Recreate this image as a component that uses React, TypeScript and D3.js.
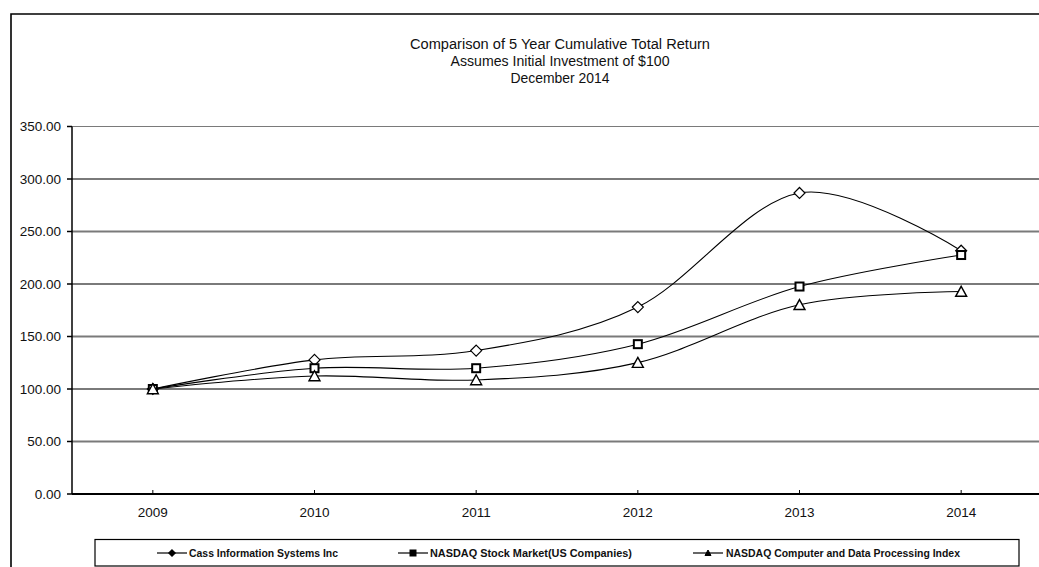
import React from "react";
import * as d3 from "d3";

const years = ["2009", "2010", "2011", "2012", "2013", "2014"];
const cass = [100, 127.7, 136.6, 178.0, 286.7, 231.7];
const nasdaq = [100, 119.8, 119.8, 142.7, 197.6, 227.6];
const computer = [100, 112.4, 108.6, 125.1, 180.2, 192.8];
const yTicks = [0, 50, 100, 150, 200, 250, 300, 350];
const titleLines = [
  "Comparison  of 5 Year Cumulative  Total Return",
  "Assumes Initial Investment  of $100",
  "December 2014",
];
const seriesNames = [
  "Cass Information Systems Inc",
  "NASDAQ Stock Market(US Companies)",
  "NASDAQ Computer and Data Processing Index",
];

const W = 1039;
const H = 567;
const FONT = "'Liberation Sans', Arial, sans-serif";

export default function App() {
  const x = d3.scaleBand<string>().domain(years).range([72, 1042]).paddingInner(0).paddingOuter(0);
  const cx = (c: string) => (x(c) as number) + x.bandwidth() / 2;
  const y = d3.scaleLinear().domain([0, 350]).range([494, 126.5]);

  const line = d3
    .line<number>()
    .x((_, i) => cx(years[i]))
    .y((v) => y(v))
    .curve(d3.curveCardinal.tension(0));

  const series = [
    { name: seriesNames[0], values: cass, marker: "diamond" },
    { name: seriesNames[1], values: nasdaq, marker: "square" },
    { name: seriesNames[2], values: computer, marker: "triangle" },
  ];

  const marker = (type: string, px: number, py: number, key: string, legend = false) => {
    if (type === "diamond") {
      const r = legend ? 3.2 : 5.5;
      return (
        <path
          key={key}
          d={`M${px},${py - r}L${px + r},${py}L${px},${py + r}L${px - r},${py}Z`}
          fill={legend ? "#000" : "#fff"}
          stroke="#000"
          strokeWidth={1.2}
        />
      );
    }
    if (type === "square") {
      const s = legend ? 6 : 8;
      return (
        <rect
          key={key}
          x={px - s / 2}
          y={py - s / 2}
          width={s}
          height={s}
          fill={legend ? "#000" : "#fff"}
          stroke="#000"
          strokeWidth={legend ? 1 : 2}
        />
      );
    }
    const h = legend ? 5 : 9.5;
    const w = legend ? 3 : 5.5;
    return (
      <path
        key={key}
        d={`M${px},${py - h / 2 - 0.5}L${px + w},${py + h / 2}L${px - w},${py + h / 2}Z`}
        fill={legend ? "#000" : "#fff"}
        stroke="#000"
        strokeWidth={legend ? 1 : 1.4}
      />
    );
  };

  const titleWidths = [300, 219, 99];
  const legendItems = [
    { lineX: 157, textX: 189, textW: 149 },
    { lineX: 398, textX: 430, textW: 202 },
    { lineX: 693, textX: 726, textW: 234 },
  ];

  return (
    <svg
      width={W}
      height={H}
      style={{ position: "absolute", left: 0, top: 0, background: "#fff" }}
      fontFamily={FONT}
    >
      <rect x={0} y={0} width={W} height={H} fill="#fff" />
      {/* outer frame */}
      <path d={`M11,${H + 2}L11,14L${W + 2},14`} fill="none" stroke="#000" strokeWidth={1.6} />

      {/* title */}
      {titleLines.map((t, i) => (
        <text
          key={t}
          x={560}
          y={49 + i * 17}
          textAnchor="middle"
          fontSize={14}
          fill="#111"
          textLength={titleWidths[i]}
          lengthAdjust="spacingAndGlyphs"
        >
          {t}
        </text>
      ))}

      {/* gridlines */}
      {yTicks
        .filter((t) => t > 0)
        .map((t) => (
          <line key={t} x1={72} x2={W + 2} y1={y(t)} y2={y(t)} stroke="#7a7a7a" strokeWidth={t === 350 ? 1.2 : 1.8} />
        ))}

      {/* y axis */}
      <line x1={72} x2={72} y1={y(350)} y2={y(0)} stroke="#000" strokeWidth={1.5} />
      {yTicks.map((t) => (
        <g key={t}>
          <line x1={67} x2={72} y1={y(t)} y2={y(t)} stroke="#000" strokeWidth={1.5} />
          <text x={61} y={y(t) + 4.8} textAnchor="end" fontSize={13.5} fill="#111">
            {d3.format(".2f")(t)}
          </text>
        </g>
      ))}

      {/* x axis */}
      <line x1={72} x2={W + 2} y1={y(0)} y2={y(0)} stroke="#000" strokeWidth={2.2} />
      {years.map((c) => (
        <g key={c}>
          <line x1={cx(c)} x2={cx(c)} y1={y(0) - 4} y2={y(0)} stroke="#000" strokeWidth={1} />
          <text x={cx(c)} y={517} textAnchor="middle" fontSize={13.5} fill="#111">
            {c}
          </text>
        </g>
      ))}

      {/* series */}
      {series.map((s) => (
        <path key={s.name + "l"} d={line(s.values) || ""} fill="none" stroke="#000" strokeWidth={1.1} />
      ))}
      {series.map((s) =>
        s.values.map((v, i) => marker(s.marker, cx(years[i]), y(v), s.name + i))
      )}

      {/* legend */}
      <rect x={95} y={539.5} width={924} height={26.5} fill="#fff" stroke="#000" strokeWidth={1.2} />
      {series.map((s, i) => {
        const it = legendItems[i];
        return (
          <g key={s.name + "leg"}>
            <line x1={it.lineX} x2={it.lineX + 30} y1={553} y2={553} stroke="#000" strokeWidth={1.2} />
            {marker(s.marker, it.lineX + 15, 553, s.name + "lm", true)}
            <text
              x={it.textX}
              y={556.5}
              fontSize={10}
              fontWeight="bold"
              fill="#111"
              textLength={it.textW}
              lengthAdjust="spacingAndGlyphs"
            >
              {s.name}
            </text>
          </g>
        );
      })}
    </svg>
  );
}
